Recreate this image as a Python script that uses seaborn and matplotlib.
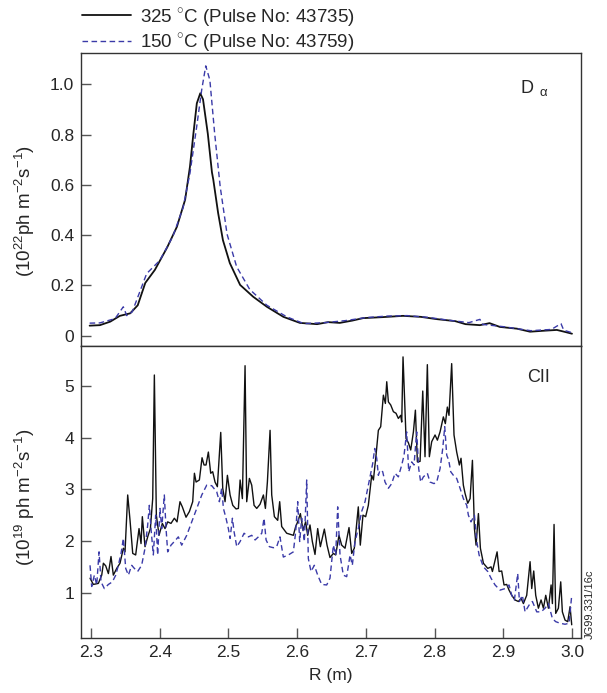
import numpy as np
import pandas as pd
import matplotlib
matplotlib.use("Agg")
import matplotlib.pyplot as plt
import seaborn as sns

# D-alpha profiles (10^22 ph m^-2 s^-1)
r_da_325 = [2.298, 2.313, 2.328, 2.342, 2.357, 2.368, 2.379, 2.393, 2.411, 2.425, 2.437, 2.444,
            2.449, 2.454, 2.459, 2.463, 2.470, 2.476, 2.478, 2.485, 2.492, 2.502, 2.517, 2.536,
            2.556, 2.580, 2.604, 2.629, 2.645, 2.662, 2.680, 2.696, 2.725, 2.754, 2.780, 2.803,
            2.830, 2.845, 2.866, 2.880, 2.895, 2.920, 2.939, 2.960, 2.978, 2.990, 3.000]
da_325 = [0.040, 0.042, 0.056, 0.079, 0.089, 0.121, 0.210, 0.262, 0.352, 0.433, 0.541, 0.672,
          0.803, 0.924, 0.964, 0.940, 0.803, 0.650, 0.620, 0.488, 0.380, 0.289, 0.202, 0.155,
          0.115, 0.075, 0.051, 0.046, 0.054, 0.051, 0.060, 0.070, 0.074, 0.079, 0.075, 0.066,
          0.058, 0.046, 0.042, 0.050, 0.035, 0.028, 0.016, 0.020, 0.023, 0.015, 0.008]

r_da_150 = [2.298, 2.313, 2.335, 2.347, 2.352, 2.360, 2.381, 2.400, 2.419, 2.434, 2.444, 2.454,
            2.461, 2.467, 2.473, 2.480, 2.488, 2.498, 2.512, 2.531, 2.556, 2.585, 2.610, 2.640,
            2.670, 2.700, 2.730, 2.760, 2.790, 2.820, 2.850, 2.866, 2.870, 2.900, 2.940, 2.970,
            2.984, 2.988, 3.000]
da_150 = [0.050, 0.051, 0.068, 0.115, 0.080, 0.095, 0.247, 0.299, 0.394, 0.509, 0.646, 0.835,
          0.976, 1.073, 1.016, 0.803, 0.593, 0.404, 0.274, 0.184, 0.121, 0.075, 0.048, 0.052,
          0.060, 0.072, 0.078, 0.080, 0.073, 0.062, 0.052, 0.065, 0.045, 0.036, 0.020, 0.025,
          0.048, 0.022, 0.012]

# CII profiles (10^19 ph m^-2 s^-1)
r_c2_325 = [2.2986, 2.3034, 2.3107, 2.3156, 2.318, 2.3214, 2.3253, 2.3291, 2.3325, 2.3374, 2.3422,
            2.3471, 2.3495, 2.3534, 2.3568, 2.3607, 2.365, 2.3699, 2.3728, 2.3747, 2.3786, 2.3825,
            2.3864, 2.3898, 2.3922, 2.3951, 2.399, 2.4038, 2.4077, 2.4116, 2.4164, 2.4213, 2.4252,
            2.4295, 2.4329, 2.4383, 2.4432, 2.448, 2.4505, 2.4529, 2.4577, 2.4616, 2.4645, 2.4674,
            2.4708, 2.4742, 2.4771, 2.4805, 2.4839, 2.4888, 2.4917, 2.4951, 2.4985, 2.5024, 2.5063,
            2.5111, 2.5145, 2.517, 2.5203, 2.5242, 2.5266, 2.5305, 2.5339, 2.5373, 2.5412, 2.546,
            2.5509, 2.5538, 2.5567, 2.5606, 2.563, 2.5669, 2.5717, 2.5746, 2.5775, 2.5848, 2.5945,
            2.5979, 2.6008, 2.6047, 2.6085, 2.6124, 2.6153, 2.6187, 2.6221, 2.626, 2.6299, 2.6338,
            2.6396, 2.6435, 2.6478, 2.6527, 2.6561, 2.6609, 2.6648, 2.6697, 2.6755, 2.6794, 2.6832,
            2.689, 2.6919, 2.6958, 2.6997, 2.7036, 2.7085, 2.711, 2.7148, 2.7182, 2.7216, 2.7255,
            2.7284, 2.7304, 2.7328, 2.7362, 2.7401, 2.7439, 2.7473, 2.7507, 2.7522, 2.7541, 2.7585,
            2.7619, 2.7653, 2.7692, 2.7721, 2.775, 2.7789, 2.7828, 2.7861, 2.7895, 2.7924, 2.7958,
            2.8007, 2.8041, 2.808, 2.8128, 2.8157, 2.8186, 2.821, 2.8249, 2.8283, 2.8322, 2.8361,
            2.8385, 2.8419, 2.8444, 2.8483, 2.8517, 2.8551, 2.858, 2.8604, 2.8638, 2.8667, 2.8711,
            2.8774, 2.8822, 2.8842, 2.8871, 2.891, 2.8939, 2.8977, 2.9011, 2.905, 2.9084, 2.9123,
            2.9171, 2.922, 2.9259, 2.9293, 2.9341, 2.939, 2.9414, 2.9443, 2.9472, 2.9511, 2.955,
            2.9584, 2.9618, 2.9657, 2.9696, 2.9715, 2.9739, 2.9763, 2.9802, 2.9836, 2.986, 2.9899,
            2.9938, 2.9972, 2.9996]
c2_325 = [1.28, 1.16, 1.18, 1.34, 1.57, 1.52, 1.37, 1.70, 1.34, 1.47, 1.57,
          1.86, 1.79, 2.89, 2.40, 1.76, 1.73, 2.24, 1.95, 2.47, 1.89, 2.08,
          2.24, 2.82, 5.21, 2.50, 2.11, 2.34, 2.24, 2.37, 2.34, 2.44, 2.37,
          2.76, 2.66, 2.46, 2.57, 2.76, 3.31, 3.14, 3.18, 3.61, 3.47, 3.47,
          3.72, 3.31, 3.34, 3.14, 3.05, 4.10, 3.02, 2.76, 3.27, 2.89, 2.69,
          2.62, 2.63, 3.18, 2.82, 5.39, 2.76, 3.21, 3.08, 2.69, 2.63, 2.71,
          2.89, 2.63, 3.14, 4.14, 2.89, 2.47, 2.40, 2.76, 2.28, 2.15, 2.11,
          2.28, 2.37, 2.53, 2.21, 2.37, 2.11, 2.31, 1.99, 1.74, 2.24, 1.89,
          2.23, 1.92, 1.68, 1.76, 1.73, 2.11, 1.92, 1.86, 2.26, 1.76, 1.86,
          2.66, 1.92, 2.50, 2.47, 2.69, 3.27, 3.18, 3.66, 4.14, 4.21, 4.82,
          4.66, 5.08, 4.69, 4.63, 4.50, 4.47, 4.37, 4.43, 4.30, 5.56, 3.98,
          3.90, 3.76, 4.11, 4.53, 3.53, 3.54, 4.90, 3.63, 5.41, 3.63, 3.92,
          4.05, 3.95, 4.11, 4.40, 4.27, 4.59, 4.43, 5.43, 4.05, 3.72, 3.47,
          3.60, 3.08, 2.92, 2.73, 2.82, 3.56, 2.24, 1.92, 2.53, 1.86, 1.57,
          1.47, 1.50, 1.41, 1.57, 1.79, 1.41, 1.42, 1.15, 1.16, 1.05, 0.95,
          0.86, 0.83, 0.89, 0.79, 0.95, 1.60, 1.08, 1.42, 0.95, 0.70, 0.86,
          0.70, 0.95, 0.70, 1.15, 0.79, 2.32, 0.60, 0.70, 1.21, 0.63, 0.47,
          0.44, 0.73, 0.38]

r_c2_150 = [2.2986, 2.301, 2.3049, 2.3083, 2.3117, 2.3146, 2.3194, 2.3253, 2.3311, 2.336, 2.3398,
            2.3437, 2.3471, 2.3505, 2.3544, 2.3592, 2.3631, 2.3679, 2.3737, 2.3786, 2.3825, 2.3849,
            2.3873, 2.3907, 2.3941, 2.397, 2.4004, 2.4029, 2.4067, 2.4092, 2.4116, 2.4164, 2.4213,
            2.4271, 2.432, 2.4393, 2.4466, 2.4539, 2.4612, 2.4684, 2.4757, 2.483, 2.4868, 2.4902,
            2.4927, 2.4965, 2.4999, 2.5024, 2.5058, 2.5082, 2.5121, 2.517, 2.5228, 2.5291, 2.5339,
            2.5388, 2.5436, 2.5485, 2.5518, 2.5548, 2.5596, 2.5654, 2.5702, 2.575, 2.5799, 2.5872,
            2.5945, 2.5979, 2.6008, 2.6037, 2.6066, 2.6105, 2.6139, 2.6163, 2.6202, 2.625, 2.6299,
            2.6357, 2.643, 2.6478, 2.6527, 2.6561, 2.659, 2.6624, 2.6672, 2.6721, 2.677, 2.6803,
            2.6842, 2.689, 2.6939, 2.6988, 2.7036, 2.71, 2.7129, 2.7158, 2.7182, 2.7207, 2.7245,
            2.7279, 2.7328, 2.7376, 2.7425, 2.7473, 2.7522, 2.7556, 2.7594, 2.7624, 2.7667, 2.7701,
            2.774, 2.7769, 2.7798, 2.7837, 2.7895, 2.7934, 2.7992, 2.8031, 2.808, 2.8119, 2.8148,
            2.8177, 2.8206, 2.8235, 2.8274, 2.8322, 2.8371, 2.8419, 2.8468, 2.8492, 2.853, 2.858,
            2.8614, 2.8648, 2.8711, 2.8774, 2.8822, 2.888, 2.8953, 2.9026, 2.9084, 2.9123, 2.9162,
            2.921, 2.9235, 2.9278, 2.9317, 2.9375, 2.9424, 2.9487, 2.955, 2.9608, 2.9657, 2.9715,
            2.9763, 2.9826, 2.9899, 2.9958, 2.9996]
c2_150 = [1.53, 1.12, 1.34, 1.15, 1.79, 1.21, 1.08, 1.16, 1.21, 1.34, 1.53,
          1.76, 2.05, 1.47, 1.34, 1.53, 1.47, 1.41, 1.53, 1.86, 2.31, 2.69,
          2.24, 1.73, 2.50, 1.73, 2.63, 2.24, 2.89, 2.24, 1.79, 1.92, 1.99,
          2.08, 1.92, 2.11, 2.37, 2.63, 2.89, 3.08, 3.07, 2.95, 2.76, 3.02,
          2.63, 2.44, 2.24, 2.05, 2.44, 2.18, 1.89, 1.99, 2.15, 2.08, 2.11,
          2.02, 2.08, 2.15, 2.44, 2.02, 1.89, 1.87, 1.89, 2.08, 1.69, 1.73,
          1.79, 2.18, 2.76, 1.99, 2.44, 1.99, 3.18, 1.66, 1.41, 1.53, 1.34,
          1.16, 1.15, 1.28, 1.92, 1.73, 2.66, 1.73, 1.34, 1.31, 1.73, 1.53,
          1.99, 2.24, 2.57, 2.76, 3.08, 3.50, 3.79, 3.60, 3.27, 3.37, 3.34,
          3.14, 3.02, 3.11, 3.31, 3.24, 3.47, 3.66, 4.11, 3.34, 3.53, 3.47,
          4.11, 3.40, 3.14, 3.24, 3.31, 3.14, 3.11, 3.14, 3.40, 3.79, 4.21,
          3.66, 3.56, 3.34, 3.27, 3.21, 3.02, 2.82, 2.69, 2.50, 2.37, 2.50,
          1.99, 1.73, 1.50, 1.41, 1.28, 1.15, 1.05, 1.08, 1.15, 0.95, 0.86,
          1.37, 0.83, 0.95, 0.63, 0.76, 0.83, 0.63, 0.63, 0.70, 0.79, 0.50,
          0.44, 0.41, 0.39, 0.41, 0.95]

legend_labels = ["325 $^{\\circ}$C (Pulse No: 43735)", "150 $^{\\circ}$C (Pulse No: 43759)"]
x_ticks = [2.3, 2.4, 2.5, 2.6, 2.7, 2.8, 2.9, 3.0]
x_tick_labels = ["2.3", "2.4", "2.5", "2.6", "2.7", "2.8", "2.9", "3.0"]
da_ticks = [0, 0.2, 0.4, 0.6, 0.8, 1.0]
da_tick_labels = ["0", "0.2", "0.4", "0.6", "0.8", "1.0"]
c2_ticks = [1, 2, 3, 4, 5]

sns.set_style("ticks")
plt.rcParams['font.family'] = ['Liberation Sans', 'DejaVu Sans']
plt.rcParams['mathtext.fontset'] = 'custom'
plt.rcParams['mathtext.rm'] = 'Liberation Sans'

solid_c = "#111111"
dash_c = "#3a3aa8"
dash_style = (0, (4, 2.5))
fs = 12.5

fig = plt.figure(figsize=(6.07, 6.93), dpi=100)
ax1 = fig.add_axes([0.1334, 0.5014, 0.8233, 0.4217])
ax2 = fig.add_axes([0.1334, 0.0798, 0.8233, 0.4216], sharex=ax1)

sns.lineplot(x=r_da_325, y=da_325, ax=ax1, color=solid_c, lw=1.3, sort=False,
             estimator=None, label=legend_labels[0])
sns.lineplot(x=r_da_150, y=da_150, ax=ax1, color=dash_c, lw=1.0, sort=False,
             estimator=None, label=legend_labels[1])
ax1.lines[1].set_linestyle(dash_style)

sns.lineplot(x=r_c2_325, y=c2_325, ax=ax2, color=solid_c, lw=1.0, sort=False, estimator=None)
sns.lineplot(x=r_c2_150, y=c2_150, ax=ax2, color=dash_c, lw=1.0, sort=False, estimator=None)
ax2.lines[1].set_linestyle(dash_style)

ax1.set_xlim(2.2854, 3.0127)
ax1.set_ylim(-0.039, 1.123)
ax2.set_ylim(0.13, 5.78)

ax1.set_yticks(da_ticks)
ax1.set_yticklabels(da_tick_labels)
ax2.set_yticks(c2_ticks)
ax2.set_xticks(x_ticks)
ax2.set_xticklabels(x_tick_labels)

for ax in (ax1, ax2):
    for s in ax.spines.values():
        s.set_visible(True)
        s.set_color("#333333")
        s.set_linewidth(1.0)
    ax.tick_params(direction="in", length=7, width=1, color="#555555",
                   labelsize=fs, top=False, right=False, pad=5)
ax1.tick_params(axis="x", bottom=False, labelbottom=False)

ax1.set_xlabel("")
ax1.set_ylabel("(10$^{22}$ph m$^{-2}$s$^{-1}$)", fontsize=13.5)
ax2.set_ylabel("(10$^{19}$ ph m$^{-2}$s$^{-1}$)", fontsize=13.5)
ax2.set_xlabel("R (m)", fontsize=fs, labelpad=6)
ax1.yaxis.set_label_coords(-0.088, 0.46)
ax2.yaxis.set_label_coords(-0.088, 0.48)

ax1.text(0.892, 0.88, "D", transform=ax1.transAxes, fontsize=fs + 0.5, ha="center", va="center")
ax1.text(0.925, 0.865, "α", transform=ax1.transAxes, fontsize=fs - 3, ha="center", va="center")
ax2.text(0.915, 0.889, "CII", transform=ax2.transAxes, fontsize=fs + 0.5, ha="center", va="center")

handles, labels = ax1.get_legend_handles_labels()
ax1.get_legend().remove()
fig.legend(handles, labels, loc="upper left", bbox_to_anchor=(0.135, 0.992), frameon=False,
           fontsize=13.5, handlelength=2.6, handletextpad=0.5, labelspacing=0.12,
           borderpad=0, borderaxespad=0)

fig.text(0.971, 0.078, "JG99.331/16c", rotation=90, fontsize=8, ha="center", va="bottom")

fig.savefig("out.png", dpi=100)
